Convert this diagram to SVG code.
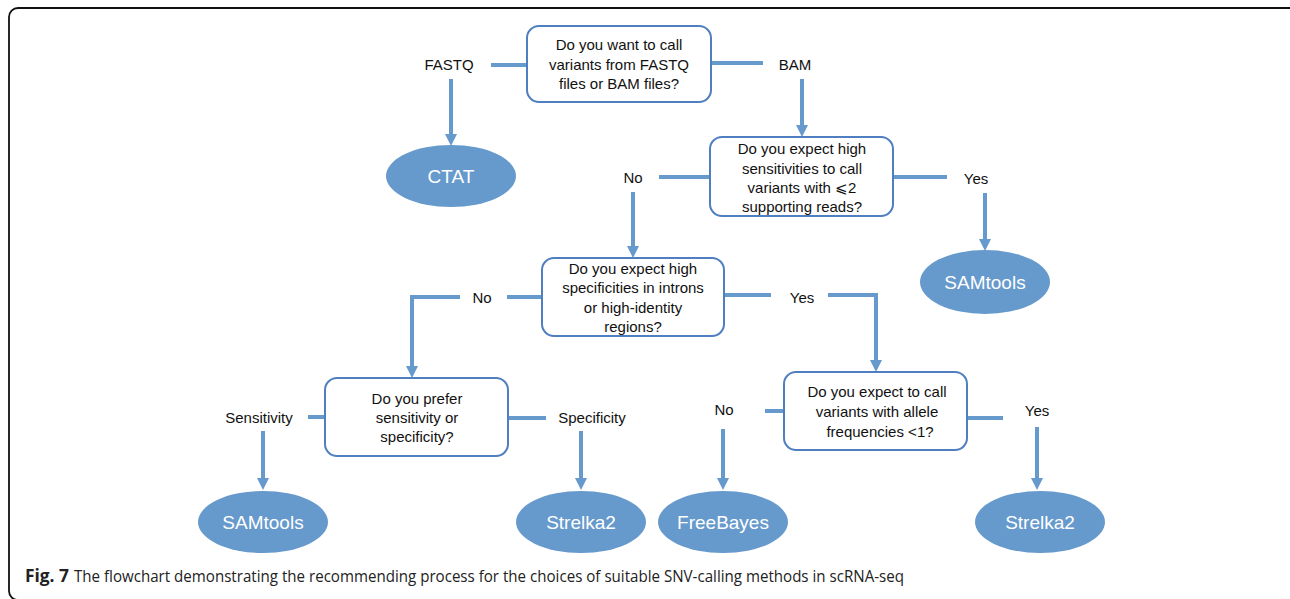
<svg xmlns="http://www.w3.org/2000/svg" width="1290" height="599" viewBox="0 0 1290 599">
<defs>
<marker id="ah" markerUnits="userSpaceOnUse" markerWidth="12" markerHeight="12" refX="0" refY="6" orient="auto">
<path d="M0,0 L12,6 L0,12 z" fill="#6699cc"/>
</marker>
<style>
.box{fill:#fff;stroke:#4f7fc0;stroke-width:2}
.ell{fill:#6699cc;stroke:none}
.t{font-family:"Liberation Sans",Arial,sans-serif;font-size:15px;fill:#111;text-anchor:middle}
.et{font-family:"Liberation Sans",Arial,sans-serif;font-size:19px;fill:#fff;text-anchor:middle}
.c{fill:none;stroke:#6699cc;stroke-width:4}
.a{fill:none;stroke:#6699cc;stroke-width:4;marker-end:url(#ah)}
.cap{font-family:"Open Sans","Liberation Sans",sans-serif;font-size:17px;fill:#222}
</style>
</defs>
<rect width="1290" height="599" fill="#fff"/>
<rect x="9" y="8" width="1290" height="592" rx="9" fill="none" stroke="#111" stroke-width="1.8"/>

<g id="connectors">
<line class="c" x1="491" y1="65" x2="527" y2="65"/>
<line class="c" x1="711" y1="63" x2="763" y2="63"/>
<line class="a" x1="451" y1="79" x2="451" y2="134"/>
<line class="a" x1="802" y1="79" x2="802" y2="125"/>
<line class="c" x1="659" y1="177" x2="710" y2="177"/>
<line class="c" x1="893" y1="177" x2="947" y2="177"/>
<line class="a" x1="985" y1="193" x2="985" y2="239"/>
<line class="a" x1="633" y1="192" x2="633" y2="246"/>
<line class="c" x1="507" y1="297" x2="541" y2="297"/>
<polyline class="a" points="460,297 412,297 412,366"/>
<line class="c" x1="724" y1="295" x2="771" y2="295"/>
<polyline class="a" points="828,295 876,295 876,360"/>
<line class="c" x1="308" y1="417" x2="325" y2="417"/>
<line class="c" x1="508" y1="418" x2="546" y2="418"/>
<line class="a" x1="263" y1="431" x2="263" y2="478"/>
<line class="a" x1="581" y1="431" x2="581" y2="478"/>
<line class="c" x1="765" y1="411" x2="784" y2="411"/>
<line class="c" x1="967" y1="418" x2="1003" y2="418"/>
<line class="a" x1="723" y1="429" x2="723" y2="478"/>
<line class="a" x1="1037" y1="427" x2="1037" y2="478"/>
</g>

<g id="labels">
<text class="t" x="449" y="70">FASTQ</text>
<text class="t" x="795" y="70">BAM</text>
<text class="t" x="633" y="183">No</text>
<text class="t" x="976" y="184">Yes</text>
<text class="t" x="482" y="303">No</text>
<text class="t" x="802" y="303">Yes</text>
<text class="t" x="259" y="423">Sensitivity</text>
<text class="t" x="592" y="423">Specificity</text>
<text class="t" x="724" y="415">No</text>
<text class="t" x="1037" y="416">Yes</text>
</g>

<g id="q1">
<rect class="box" x="527" y="26" width="184" height="76" rx="12"/>
<text class="t" x="619" y="50">Do you want to call</text>
<text class="t" x="619" y="70">variants from FASTQ</text>
<text class="t" x="619" y="89">files or BAM files?</text>
</g>

<g id="ctat">
<ellipse class="ell" cx="451" cy="176" rx="65" ry="31"/>
<text class="et" x="451" y="183">CTAT</text>
</g>

<g id="q2">
<rect class="box" x="710" y="137" width="183" height="79" rx="12"/>
<text class="t" x="802" y="154">Do you expect high</text>
<text class="t" x="802" y="174">sensitivities to call</text>
<text class="t" x="802" y="193">variants with ⩽2</text>
<text class="t" x="802" y="212">supporting reads?</text>
</g>

<g id="samtools1">
<ellipse class="ell" cx="985" cy="282" rx="65" ry="32"/>
<text class="et" x="985" y="289">SAMtools</text>
</g>

<g id="q3">
<rect class="box" x="542" y="258" width="182" height="78" rx="12"/>
<text class="t" x="633" y="274">Do you expect high</text>
<text class="t" x="633" y="293">specificities in introns</text>
<text class="t" x="633" y="313">or high-identity</text>
<text class="t" x="633" y="332">regions?</text>
</g>

<g id="q4">
<rect class="box" x="325" y="378" width="183" height="78" rx="12"/>
<text class="t" x="417" y="404">Do you prefer</text>
<text class="t" x="417" y="423">sensitivity or</text>
<text class="t" x="417" y="442">specificity?</text>
</g>

<g id="q5">
<rect class="box" x="784" y="372" width="183" height="78" rx="12"/>
<text class="t" x="877" y="397">Do you expect to call</text>
<text class="t" x="877" y="417">variants with allele</text>
<text class="t" x="880" y="437">frequencies &lt;1?</text>
</g>

<g id="samtools2">
<ellipse class="ell" cx="263" cy="522" rx="65" ry="31"/>
<text class="et" x="263" y="529">SAMtools</text>
</g>

<g id="strelka2a">
<ellipse class="ell" cx="581" cy="522" rx="65" ry="31"/>
<text class="et" x="581" y="529">Strelka2</text>
</g>

<g id="freebayes">
<ellipse class="ell" cx="723" cy="522" rx="65" ry="31"/>
<text class="et" x="723" y="529">FreeBayes</text>
</g>

<g id="strelka2b">
<ellipse class="ell" cx="1040" cy="522" rx="65" ry="31"/>
<text class="et" x="1040" y="529">Strelka2</text>
</g>

<g id="caption">
<text class="cap" x="25" y="582" font-weight="bold" textLength="44" lengthAdjust="spacingAndGlyphs">Fig. 7</text>
<text class="cap" x="74" y="582" textLength="830" lengthAdjust="spacingAndGlyphs">The flowchart demonstrating the recommending process for the choices of suitable SNV-calling methods in scRNA-seq</text>
</g>
</svg>
